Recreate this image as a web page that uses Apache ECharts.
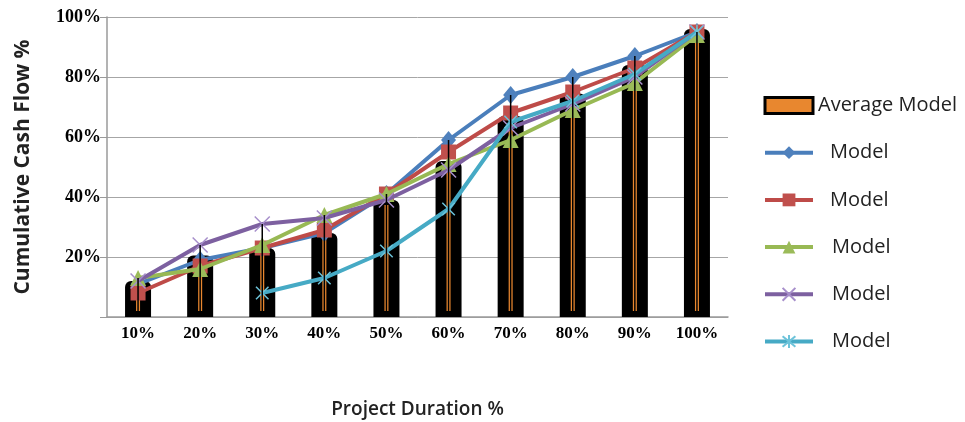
<!DOCTYPE html>
<html>
<head>
<meta charset="utf-8">
<script src="https://cdn.jsdelivr.net/npm/echarts@6/dist/echarts.min.js"></script>
<style>
  html, body { margin: 0; padding: 0; background: #fff; }
  #chart { width: 965px; height: 422px; }
</style>
</head>
<body>
<div id="chart"></div>
<script>
// Project duration checkpoints (x axis)
const categories = ['10%', '20%', '30%', '40%', '50%', '60%', '70%', '80%', '90%', '100%'];
// Cumulative cash flow, percent
const averageModel = [12, 20.5, 23, 28, 39, 52, 67, 74.5, 84, 96];
const model1 = [11, 19, 23, 28, 41, 59, 74, 80, 87, 95];
const model2 = [8, 17, 23, 29, 41, 55, 68, 75, 83, 95];
const model3 = [13, 16, 24, 34, 41, 51, 59, 69, 78, 94];
const model4 = [12, 24, 31, 33, 39, 49, 63, 71, 80, 95];
const model5 = [null, null, 8, 13, 22, 36, 65, 72, 81, 95];
const yTicks = [0, 20, 40, 60, 80, 100];

const modelSeries = [model1, model2, model3, model4, model5];
const modelNames = ['Model 1', 'Model 2', 'Model 3', 'Model 4', 'Model 5'];

const lineColors = ['#4A7EBB', '#BE4B48', '#98B954', '#7D60A0', '#46AAC5'];
const markerColors = ['#4F81BD', '#C0504D', '#9BBB59', '#A78FCB', '#6CC3DA'];
const xPath = 'path://M0,0L10,10M10,0L0,10';
const starPath = 'path://M0,0L10,10M10,0L0,10M5,-1L5,11';
const markers = [
  { symbol: 'diamond', size: [15, 18] },
  { symbol: 'rect', size: 15 },
  { symbol: 'triangle', size: 16 },
  { symbol: xPath, size: 15 },
  { symbol: starPath, size: 15 }
];

// High-low line: from the axis up to the highest model value at each checkpoint
const highLow = categories.map((c, i) => {
  const vals = modelSeries.map(s => s[i]).filter(v => v != null);
  return [i, Math.max.apply(null, vals)];
});

const chart = echarts.init(document.getElementById('chart'), null, { renderer: 'canvas' });

const lineSeries = modelSeries.map((data, k) => {
  const isStroke = k >= 3;
  return {
    name: modelNames[k],
    type: 'line',
    data: data,
    z: 3 + k * 0.1,
    symbol: markers[k].symbol,
    symbolSize: markers[k].size,
    symbolKeepAspect: true,
    showAllSymbol: true,
    connectNulls: false,
    lineStyle: { color: lineColors[k], width: 4 },
    itemStyle: isStroke
      ? { color: 'rgba(0,0,0,0)', borderColor: markerColors[k], borderWidth: 1.5 }
      : { color: markerColors[k], borderColor: markerColors[k], borderWidth: 0 },
    emphasis: { disabled: true },
    animation: false
  };
});

const modelLegendItem = (name, pad) => ({
  name: name,
  textStyle: { padding: [0, 0, 0, pad] }
});

const option = {
  animation: false,
  grid: { left: 107, right: 237, top: 17, bottom: 105, containLabel: false, outerBoundsMode: 'none' },
  xAxis: {
    type: 'category',
    data: categories,
    boundaryGap: true,
    name: 'Project Duration %',
    nameLocation: 'middle',
    nameGap: 83,
    nameTextStyle: { fontFamily: 'Open Sans', fontWeight: 600, fontSize: 19, color: '#222' },
    axisLine: { lineStyle: { color: '#9A9A9A', width: 1.5 } },
    axisTick: { show: false },
    axisLabel: { margin: 8, fontFamily: 'Liberation Serif', fontWeight: 'bold', fontSize: 17, color: '#000' }
  },
  yAxis: {
    type: 'value',
    min: yTicks[0],
    max: yTicks[yTicks.length - 1],
    interval: 20,
    name: 'Cumulative Cash Flow %',
    nameLocation: 'middle',
    nameRotate: 90,
    nameGap: 73,
    nameTextStyle: { fontFamily: 'Open Sans', fontWeight: 'bold', fontSize: 21, color: '#222' },
    axisLine: { show: true, lineStyle: { color: '#9A9A9A', width: 1.5 } },
    axisTick: { show: true, length: 7, lineStyle: { color: '#9A9A9A' } },
    splitLine: { show: true, lineStyle: { color: '#A6A6A6', width: 1 } },
    axisLabel: {
      margin: 6,
      formatter: v => v === 0 ? '' : v + '%',
      fontFamily: 'Liberation Serif', fontWeight: 'bold', fontSize: 18, color: '#000'
    }
  },
  legend: {
    orient: 'vertical',
    left: 763,
    top: 94.5,
    padding: 0,
    itemWidth: 48,
    itemHeight: 16,
    itemGap: 25.2,
    selectedMode: false,
    lineStyle: { width: 4 },
    textStyle: { fontFamily: 'Open Sans', fontSize: 20, color: '#222', lineHeight: 22 },
    formatter: name => name === 'Average Model' ? name : 'Model',
    data: [
      { name: 'Average Model', icon: 'rect', itemStyle: { color: '#E8872F', borderColor: '#000', borderWidth: 3 } },
      modelLegendItem(modelNames[0], 12),
      modelLegendItem(modelNames[1], 12),
      modelLegendItem(modelNames[2], 14),
      modelLegendItem(modelNames[3], 14),
      modelLegendItem(modelNames[4], 14)
    ]
  },
  series: [
    {
      name: 'Average Model',
      type: 'bar',
      data: averageModel,
      barWidth: 26,
      z: 1,
      itemStyle: { color: '#000', borderRadius: [6, 6, 0, 0] },
      emphasis: { disabled: true }
    },
    {
      // thin orange core inside each black bar
      name: 'core',
      type: 'custom',
      z: 2,
      silent: true,
      data: averageModel.map((v, i) => [i, v]),
      renderItem: (params, api) => {
        const top = api.coord([api.value(0), api.value(1)]);
        const base = api.coord([api.value(0), 0]);
        return {
          type: 'rect',
          shape: { x: top[0] - 2, y: top[1] + 5, width: 4, height: base[1] - top[1] - 11 },
          style: { fill: '#E8872F' }
        };
      }
    },
    ...lineSeries,
    {
      name: 'high-low',
      type: 'custom',
      z: 5,
      silent: true,
      data: highLow,
      renderItem: (params, api) => {
        const top = api.coord([api.value(0), api.value(1)]);
        const base = api.coord([api.value(0), 0]);
        return {
          type: 'line',
          shape: { x1: top[0], y1: top[1], x2: base[0], y2: base[1] - 6 },
          style: { stroke: '#000', lineWidth: 1.5 }
        };
      }
    }
  ]
};

chart.setOption(option);
</script>
</body>
</html>
